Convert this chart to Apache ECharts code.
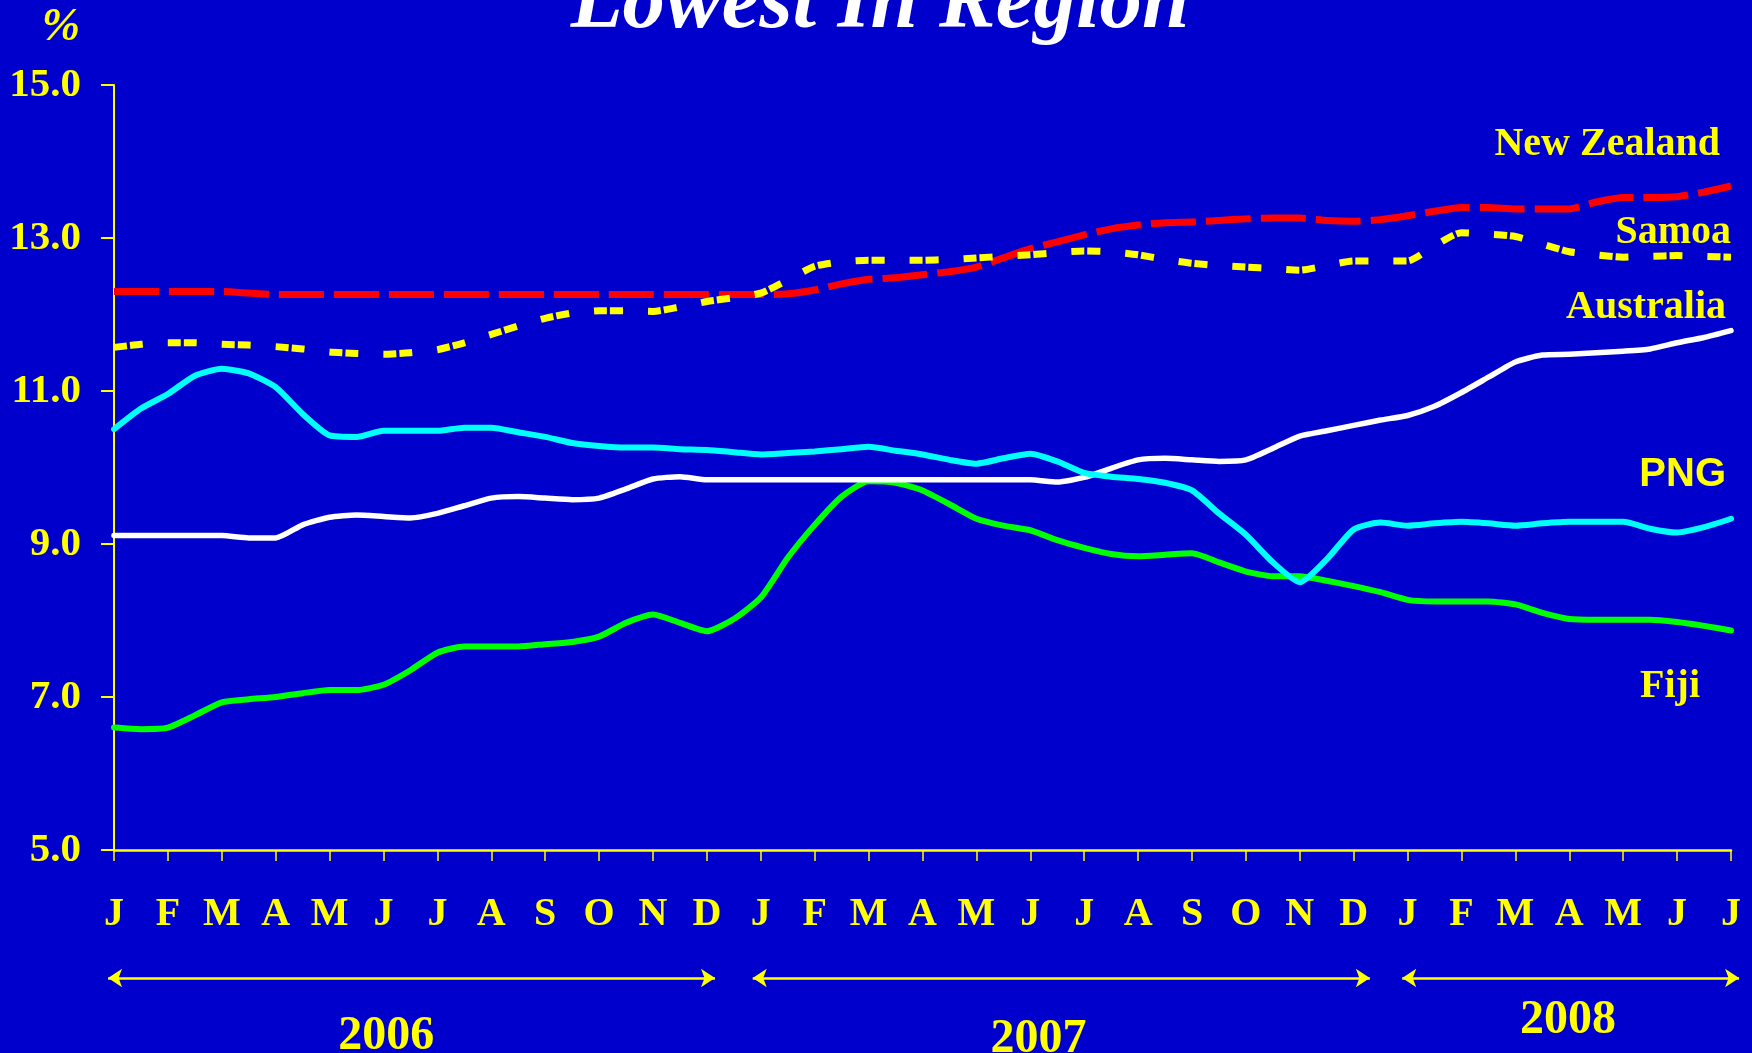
<!DOCTYPE html>
<html>
<head>
<meta charset="utf-8">
<title>Lowest In Region</title>
<script src="https://cdn.jsdelivr.net/npm/echarts@6/dist/echarts.min.js"></script>
<style>
  html, body { margin: 0; padding: 0; background: #0000CC; }
  #chart { width: 1752px; height: 1053px; }
</style>
</head>
<body>
<div id="chart"></div>
<script>
// month letters, Jan 2006 .. Jul 2008 (data points are read every half month)
var monthLetters = ['J','F','M','A','M','J','J','A','S','O','N','D',
                    'J','F','M','A','M','J','J','A','S','O','N','D',
                    'J','F','M','A','M','J','J'];

var fiji = [6.60, 6.58, 6.60, 6.76, 6.93, 6.97, 7.00, 7.05, 7.09, 7.09, 7.16, 7.35, 7.58, 7.66, 7.66, 7.66,
            7.69, 7.72, 7.79, 7.97, 8.08, 7.97, 7.86, 8.02, 8.30, 8.82, 9.25, 9.62, 9.82, 9.80, 9.70, 9.52,
            9.33, 9.24, 9.18, 9.05, 8.95, 8.87, 8.84, 8.86, 8.88, 8.76, 8.64, 8.58, 8.58, 8.52, 8.45, 8.37,
            8.27, 8.25, 8.25, 8.25, 8.21, 8.10, 8.02, 8.01, 8.01, 8.01, 7.98, 7.93, 7.87];

var australia = [9.11, 9.11, 9.11, 9.11, 9.11, 9.08, 9.08, 9.25, 9.35, 9.38, 9.36, 9.34, 9.40, 9.50, 9.60, 9.62,
                 9.60, 9.58, 9.60, 9.72, 9.85, 9.88, 9.84, 9.84, 9.84, 9.84, 9.84, 9.84, 9.84, 9.84, 9.84, 9.84,
                 9.84, 9.84, 9.84, 9.81, 9.87, 9.99, 10.10, 10.12, 10.10, 10.08, 10.10, 10.25, 10.41, 10.48, 10.55, 10.62,
                 10.68, 10.80, 10.98, 11.18, 11.38, 11.47, 11.48, 11.50, 11.52, 11.55, 11.63, 11.70, 11.79];

var png = [10.50, 10.77, 10.96, 11.20, 11.29, 11.23, 11.05, 10.70, 10.42, 10.40, 10.48, 10.48, 10.48, 10.52, 10.52, 10.46,
           10.40, 10.32, 10.28, 10.26, 10.26, 10.24, 10.23, 10.20, 10.17, 10.19, 10.21, 10.24, 10.27, 10.22, 10.17, 10.10,
           10.05, 10.12, 10.18, 10.08, 9.93, 9.88, 9.85, 9.80, 9.70, 9.40, 9.12, 8.76, 8.50, 8.80, 9.19, 9.28,
           9.24, 9.27, 9.29, 9.27, 9.24, 9.27, 9.29, 9.29, 9.29, 9.20, 9.15, 9.22, 9.33];

var newZealand = [12.30, 12.30, 12.30, 12.30, 12.30, 12.28, 12.26, 12.26, 12.26, 12.26, 12.26, 12.26, 12.26, 12.26, 12.26, 12.26,
                  12.26, 12.26, 12.26, 12.26, 12.26, 12.26, 12.26, 12.26, 12.26, 12.27, 12.32, 12.40, 12.46, 12.48, 12.52, 12.56,
                  12.62, 12.74, 12.86, 12.95, 13.04, 13.12, 13.17, 13.20, 13.21, 13.23, 13.25, 13.26, 13.26, 13.23, 13.22, 13.24,
                  13.29, 13.35, 13.40, 13.40, 13.38, 13.38, 13.38, 13.47, 13.53, 13.53, 13.54, 13.60, 13.68];

var samoa = [11.57, 11.61, 11.63, 11.63, 11.61, 11.60, 11.58, 11.55, 11.51, 11.49, 11.48, 11.50, 11.54, 11.63, 11.74, 11.85,
             11.95, 12.02, 12.05, 12.05, 12.04, 12.10, 12.17, 12.22, 12.28, 12.45, 12.63, 12.69, 12.71, 12.71, 12.71, 12.72,
             12.74, 12.76, 12.78, 12.81, 12.83, 12.82, 12.78, 12.72, 12.67, 12.64, 12.62, 12.60, 12.58, 12.64, 12.70, 12.70,
             12.70, 12.90, 13.07, 13.05, 13.02, 12.92, 12.82, 12.78, 12.75, 12.76, 12.77, 12.76, 12.75];

// year spans under the axis, in half-month steps
var years = ['2006', '2007', '2008'];
var yearStart = [-0.22, 23.7, 47.8];
var yearEnd = [22.3, 46.6, 60.3];
var yearMid = [10.1, 34.3, 53.95];

var YELLOW = '#FFFF00';
var SERIF = '"Liberation Serif", "Times New Roman", serif';
var SANS = '"Liberation Sans", Arial, sans-serif';

var chart = echarts.init(document.getElementById('chart'));

function pts(arr) {
    return arr.map(function (v, i) { return [i, v]; });
}

function lineSeries(name, data, color, width, type, cap, label) {
    return {
        name: name,
        type: 'line',
        data: pts(data),
        showSymbol: false,
        smooth: 0.2,
        lineStyle: { color: color, width: width, type: type, cap: cap, join: 'round' },
        endLabel: {
            show: true,
            formatter: name,
            color: YELLOW,
            fontFamily: label.font || SERIF,
            fontWeight: 'bold',
            fontSize: 40,
            align: 'right',
            verticalAlign: 'middle',
            distance: 0,
            offset: label.offset
        }
    };
}

var series = [
    lineSeries('Fiji', fiji, '#00FF00', 6, 'solid', 'round', { offset: [-31, 56] }),
    lineSeries('Australia', australia, '#FFFFFF', 5.5, 'solid', 'round', { offset: [-5, -23] }),
    lineSeries('PNG', png, '#00FFFF', 6, 'solid', 'round', { offset: [-5, -44], font: SANS }),
    lineSeries('New Zealand', newZealand, '#FF0000', 7, [45, 10], 'butt', { offset: [-11, -41] }),
    lineSeries('Samoa', samoa, YELLOW, 7, [13, 3, 13, 25], 'butt', { offset: [0, -24] })
];

// year arrows
series.push({
    type: 'lines',
    coordinateSystem: 'cartesian2d',
    xAxisIndex: 1,
    yAxisIndex: 1,
    clip: false,
    symbol: ['arrow', 'arrow'],
    symbolSize: 14,
    lineStyle: { color: YELLOW, width: 2.5, opacity: 1, curveness: 0 },
    data: years.map(function (y, i) {
        return { coords: [[yearStart[i], 0.5], [yearEnd[i], 0.5]] };
    })
});

var yearDy = [59, 62, 43];
series.push({
    type: 'scatter',
    xAxisIndex: 1,
    yAxisIndex: 1,
    symbolSize: 0,
    clip: false,
    itemStyle: { opacity: 1 },
    data: years.map(function (y, i) {
        return {
            name: y,
            value: [yearMid[i], 0.5],
            label: { offset: [0, yearDy[i]] }
        };
    }),
    label: {
        show: true,
        position: 'inside',
        formatter: '{b}',
        color: YELLOW,
        opacity: 1,
        fontFamily: SERIF,
        fontWeight: 'bold',
        fontSize: 48
    }
});

var option = {
    backgroundColor: '#0000CC',
    animation: false,
    grid: [
        { left: 114, right: 21, top: 85, height: 765 },
        { left: 114, right: 21, top: 968, height: 20 }
    ],
    xAxis: [{
        type: 'value',
        gridIndex: 0,
        min: 0,
        max: 60,
        interval: 2,
        splitLine: { show: false },
        axisLine: { show: true, onZero: false, lineStyle: { color: YELLOW, width: 2.5 } },
        axisTick: { show: true, length: 11, lineStyle: { color: YELLOW, width: 1.5 } },
        axisLabel: {
            margin: 45,
            color: YELLOW,
            fontFamily: SERIF,
            fontWeight: 'bold',
            fontSize: 40,
            formatter: function (v) { return monthLetters[v / 2]; }
        }
    }, {
        type: 'value',
        gridIndex: 1,
        min: 0,
        max: 60,
        show: false
    }],
    yAxis: [{
        type: 'value',
        gridIndex: 0,
        min: 5,
        max: 15,
        interval: 2,
        splitLine: { show: false },
        axisLine: { show: true, onZero: false, lineStyle: { color: YELLOW, width: 2 } },
        axisTick: { show: true, length: 13, lineStyle: { color: YELLOW, width: 2 } },
        axisLabel: {
            margin: 33,
            color: YELLOW,
            fontFamily: SERIF,
            fontWeight: 'bold',
            fontSize: 41,
            formatter: function (v) { return v.toFixed(1); }
        }
    }, {
        type: 'value',
        gridIndex: 1,
        min: 0,
        max: 1,
        show: false
    }],
    graphic: [{
        type: 'text',
        x: 880,
        y: 5,
        style: {
            text: 'Lowest In Region',
            fill: '#FFFFFF',
            font: 'italic bold 85px ' + SERIF,
            align: 'center',
            verticalAlign: 'middle'
        }
    }, {
        type: 'text',
        x: 61,
        y: 28,
        style: {
            text: '%',
            fill: YELLOW,
            font: 'italic bold 46px ' + SERIF,
            align: 'center',
            verticalAlign: 'middle'
        }
    }],
    series: series
};

chart.setOption(option);
</script>
</body>
</html>
